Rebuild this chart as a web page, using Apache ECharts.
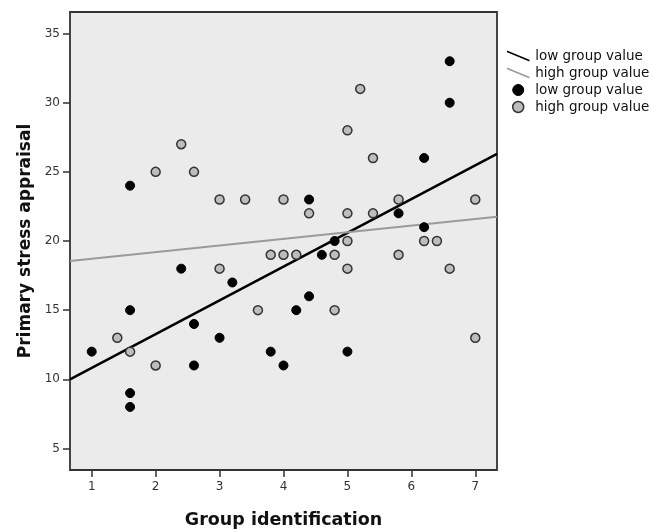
<!DOCTYPE html>
<html>
<head>
<meta charset="utf-8">
<script src="https://cdn.jsdelivr.net/npm/echarts@6/dist/echarts.min.js"></script>
<style>
html,body{margin:0;padding:0;background:#fff;}
#chart{width:653px;height:532px;}
</style>
</head>
<body>
<div id="chart"></div>
<script>
// ---- data ----
const xTicks = [1, 2, 3, 4, 5, 6, 7];
const yTicks = [5, 10, 15, 20, 25, 30, 35];

const lowX = [1, 1.6, 1.6, 1.6, 1.6, 2.4, 2.6, 2.6, 3, 3.2, 3.8, 4, 4.2, 4.4, 4.4, 4.6, 4.8, 5, 5.8, 6.2, 6.2, 6.6, 6.6];
const lowY = [12, 24, 15, 9, 8, 18, 14, 11, 13, 17, 12, 11, 15, 23, 16, 19, 20, 12, 22, 26, 21, 33, 30];

const highX = [1.4, 1.6, 2, 2, 2.4, 2.6, 3, 3, 3.4, 3.6, 3.8, 4, 4, 4.2, 4.4, 4.8, 4.8, 5, 5, 5, 5, 5.2, 5.4, 5.4, 5.8, 5.8, 6.2, 6.4, 6.6, 7, 7];
const highY = [13, 12, 25, 11, 27, 25, 23, 18, 23, 15, 19, 23, 19, 19, 22, 19, 15, 28, 22, 20, 18, 31, 26, 22, 23, 19, 20, 20, 18, 23, 13];

const fitX = [0.66, 7.34];
const lowFitY = [10.0, 26.3];
const highFitY = [18.56, 21.75];

const legendLabels = ['low group value', 'high group value', 'low group value', 'high group value'];
const seriesKeys = ['lowLine', 'highLine', 'lowPt', 'highPt'];

const xTitle = 'Group identification';
const yTitle = 'Primary stress appraisal';

// ---- build ----
const zip = (xs, ys) => xs.map((x, i) => [x, ys[i]]);
const labelMap = {};
seriesKeys.forEach((k, i) => labelMap[k] = legendLabels[i]);

const FONT = 'DejaVu Sans';
const chart = echarts.init(document.getElementById('chart'), null, {renderer: 'canvas'});
const slash = 'path://M0,0 L22,9 L22,10.8 L0,1.8 Z';

chart.setOption({
  animation: false,
  backgroundColor: '#ffffff',
  grid: {
    left: 70, top: 12, right: 156, bottom: 62,
    outerBoundsMode: 'none', containLabel: false,
    show: true, backgroundColor: '#ebebeb', borderColor: '#333333', borderWidth: 1.8
  },
  legend: {
    orient: 'vertical', left: 502, top: 44,
    itemWidth: 24, itemHeight: 11, itemGap: 3,
    selectedMode: false,
    textStyle: {fontFamily: FONT, fontSize: 13.5, color: '#111'},
    formatter: name => labelMap[name],
    data: [
      {name: 'lowLine', icon: slash, itemStyle: {color: '#000', borderWidth: 0}},
      {name: 'highLine', icon: slash, itemStyle: {color: '#9a9a9a', borderWidth: 0}},
      {name: 'lowPt', icon: 'circle', itemStyle: {color: '#000', borderColor: '#000', borderWidth: 1}},
      {name: 'highPt', icon: 'circle', itemStyle: {color: '#bdbdbd', borderColor: '#333', borderWidth: 1.5}}
    ]
  },
  xAxis: {
    type: 'value', min: 0.66, max: 7.34,
    splitLine: {show: false},
    axisLine: {show: false},
    axisTick: {show: true, length: 7, lineStyle: {color: '#333', width: 1.5}, customValues: xTicks},
    axisLabel: {customValues: xTicks, fontFamily: FONT, fontSize: 12, color: '#333', margin: 11},
    name: xTitle, nameLocation: 'middle', nameGap: 41,
    nameTextStyle: {fontFamily: FONT, fontSize: 17.5, fontWeight: 'bold', color: '#111'}
  },
  yAxis: {
    type: 'value', min: 3.44, max: 36.56,
    splitLine: {show: false},
    axisLine: {show: false},
    axisTick: {show: true, length: 7, lineStyle: {color: '#333', width: 1.5}, customValues: yTicks},
    axisLabel: {customValues: yTicks, fontFamily: FONT, fontSize: 12, color: '#333', margin: 10},
    name: yTitle, nameLocation: 'middle', nameGap: 36, nameRotate: 90,
    nameTextStyle: {fontFamily: FONT, fontSize: 17, fontWeight: 'bold', color: '#111'}
  },
  series: [
    {
      name: 'lowLine', type: 'line', data: zip(fitX, lowFitY), showSymbol: false, symbol: 'none',
      color: '#000', lineStyle: {color: '#000', width: 2.5}, z: 2
    },
    {
      name: 'highLine', type: 'line', data: zip(fitX, highFitY), showSymbol: false, symbol: 'none',
      color: '#9a9a9a', lineStyle: {color: '#9a9a9a', width: 2}, z: 2
    },
    {
      name: 'lowPt', type: 'scatter', data: zip(lowX, lowY), symbolSize: 9,
      itemStyle: {color: '#000', borderColor: '#000', borderWidth: 1, opacity: 1}, z: 3
    },
    {
      name: 'highPt', type: 'scatter', data: zip(highX, highY), symbolSize: 9,
      itemStyle: {color: '#bdbdbd', borderColor: '#333', borderWidth: 1.5, opacity: 1}, z: 3
    }
  ]
});
</script>
</body>
</html>
